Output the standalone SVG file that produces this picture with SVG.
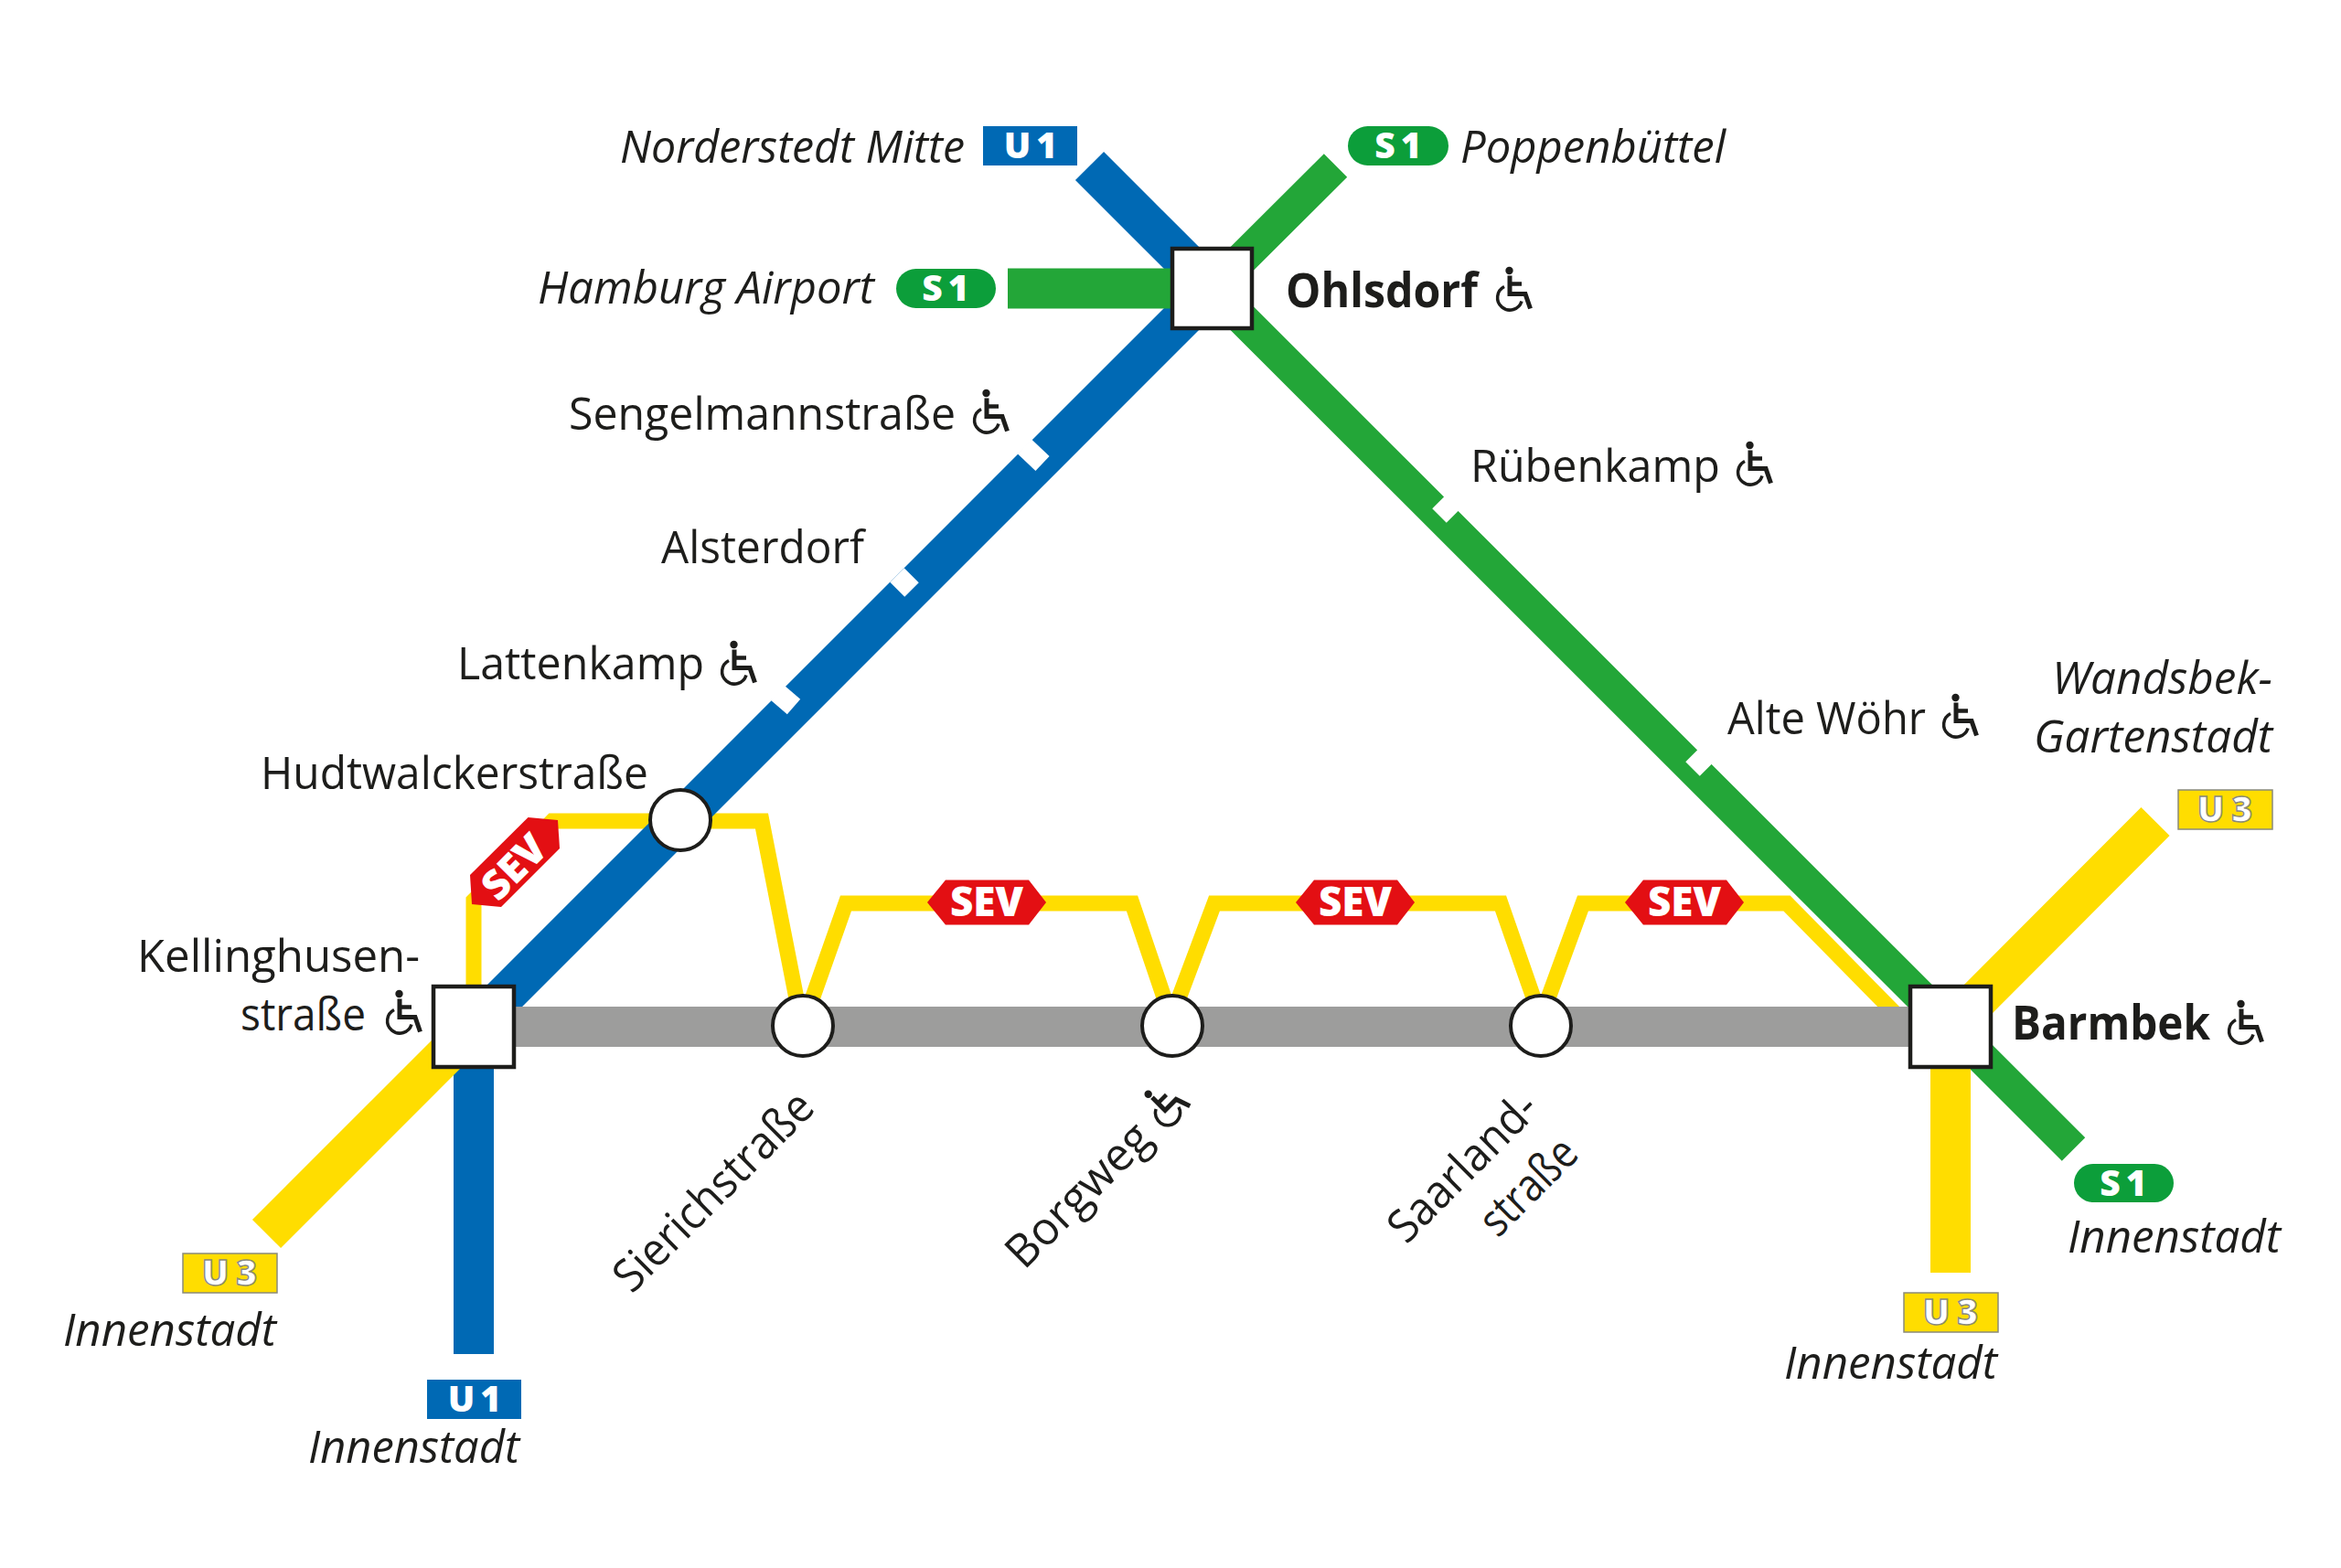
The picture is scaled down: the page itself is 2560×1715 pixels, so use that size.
<svg xmlns="http://www.w3.org/2000/svg" width="2560" height="1715" viewBox="0 0 2560 1715">
<style>
text{font-family:"Open Sans","Noto Sans","Liberation Sans",sans-serif;fill:#1d1d1b;font-size:50px}
.it{font-style:italic}
.b{font-weight:700;font-size:52px}
.bd{font-weight:800;font-size:39px;fill:#fff;text-anchor:middle;letter-spacing:6px}
.u3{stroke:#8a8a7a;stroke-width:1.5px;letter-spacing:8px}
.sev{font-weight:800;font-size:44px;fill:#fff;text-anchor:middle}
.l{fill:none;stroke-width:44}
.g{fill:none;stroke-width:36}
.thin{fill:none;stroke:#ffdd00;stroke-width:17;stroke-linejoin:miter}
.blue{stroke:#0069b4}.green{stroke:#23a638}.yellow{stroke:#ffdd00}.grey{stroke:#9d9d9c}
.notch{stroke:#fff;stroke-width:22}
.sq{fill:#fff;stroke:#1d1d1b;stroke-width:4.5}
.ci{fill:#fff;stroke:#1d1d1b;stroke-width:4}
.hex{fill:#e30f13}
.bu{fill:#0069b4}.bs{fill:#0c9e3a}.by{fill:#ffdd00;stroke:#8a8a7a;stroke-width:1.5}
</style>
<defs>
<g id="wc" fill="none" stroke="#1d1d1b">
<circle cx="14.500" cy="4" r="4.200" fill="#1d1d1b" stroke="none"/>
<path d="M15 9.500V29.500H32L37.500 45.500" stroke-width="5"/>
<path d="M15 18.500H28" stroke-width="4.500"/>
<path d="M9 21.500A13.500 13.500 0 1 0 28 37.500" stroke-width="3.500"/>
</g>
<polygon id="h" class="hex" points="-65,0 -45,-24.500 46,-24.500 65,0 46,24.500 -45,24.500"/>
</defs>
<rect width="2560" height="1715" fill="#fff"/>
<g id="connectors">
<path class="thin" d="M518 1090V985L604 898H833L874.500 1110M882 1110L925 988H1238L1276 1100M1286 1100L1328 988H1641L1680 1100M1690 1100L1731 988H1954L2072 1108"/>
<path class="l blue" d="M1191.500 181.500L1325.500 315.500L518 1123V1481"/>
<path class="g green" d="M1460.500 181L1325.500 315.500L2267.500 1257"/>
<path class="l green" d="M1102 315.500H1325.500"/>
<path class="l yellow" d="M291.500 1349.500L518 1123"/>
<path class="l yellow" d="M2357 898.500L2133 1123V1392"/>
<path class="l grey" d="M518 1123H2133"/>
<path class="notch" d="M1120.500 488.500L1140 507"/>
<path class="notch" d="M981 629L997 645"/>
<path class="notch" d="M850 757.500L868 773"/>
<path class="notch" d="M1592 546L1574 564"/>
<path class="notch" d="M1869 823L1851 841"/>
</g>
<g id="sev-badges">
<g id="sev-hudtwalcker"><polygon class="hex" points="577.500,894 610,897 612,928 548,992 516,989 514,957"/><text class="sev" transform="translate(573,959) rotate(-45)">SEV</text></g>
<g id="sev-sierich"><use href="#h" x="1079" y="987"/><text class="sev" x="1079" y="1002">SEV</text></g>
<g id="sev-borgweg"><use href="#h" x="1482" y="987"/><text class="sev" x="1482" y="1002">SEV</text></g>
<g id="sev-saarland"><use href="#h" x="1842" y="987"/><text class="sev" x="1842" y="1002">SEV</text></g>
</g>
<g id="ohlsdorf"><rect class="sq" x="1282" y="272" width="87" height="87"/><text class="b" x="1406" y="336" textLength="210" lengthAdjust="spacingAndGlyphs">Ohlsdorf</text><use href="#wc" x="1636" y="292"/></g>
<g id="barmbek"><rect class="sq" x="2089" y="1079" width="88" height="88"/><text class="b" x="2200" y="1137" textLength="217" lengthAdjust="spacingAndGlyphs">Barmbek</text><use href="#wc" x="2436" y="1094"/></g>
<g id="kellinghusenstrasse"><rect class="sq" x="474" y="1079" width="88" height="88"/><text x="150" y="1063" textLength="309" lengthAdjust="spacingAndGlyphs">Kellinghusen-</text><text x="263" y="1127" textLength="137" lengthAdjust="spacingAndGlyphs">straße</text><use href="#wc" x="422" y="1083"/></g>
<g id="hudtwalckerstrasse"><circle class="ci" cx="744" cy="897" r="33"/><text x="285" y="863" textLength="424" lengthAdjust="spacingAndGlyphs">Hudtwalckerstraße</text></g>
<g id="sierichstrasse"><circle class="ci" cx="878" cy="1122" r="33"/><text transform="translate(691,1416) rotate(-45)" textLength="286" lengthAdjust="spacingAndGlyphs">Sierichstraße</text></g>
<g id="borgweg"><circle class="ci" cx="1282" cy="1122" r="33"/><text transform="translate(1120,1390) rotate(-45)" textLength="201" lengthAdjust="spacingAndGlyphs">Borgweg</text><use href="#wc" transform="translate(1273,1207) rotate(-45) translate(-19.500,-23.500)"/></g>
<g id="saarlandstrasse"><circle class="ci" cx="1685" cy="1122" r="33"/><text transform="translate(1538,1362) rotate(-45)" textLength="208" lengthAdjust="spacingAndGlyphs">Saarland-</text><text transform="translate(1638,1355) rotate(-45)" textLength="128" lengthAdjust="spacingAndGlyphs">straße</text></g>
<g id="sengelmannstrasse"><text x="622" y="470" textLength="423" lengthAdjust="spacingAndGlyphs">Sengelmannstraße</text><use href="#wc" x="1064" y="426"/></g>
<g id="alsterdorf"><text x="723" y="616" textLength="222" lengthAdjust="spacingAndGlyphs">Alsterdorf</text></g>
<g id="lattenkamp"><text x="500" y="743" textLength="270" lengthAdjust="spacingAndGlyphs">Lattenkamp</text><use href="#wc" x="788" y="701"/></g>
<g id="ruebenkamp"><text x="1608" y="527" textLength="273" lengthAdjust="spacingAndGlyphs">Rübenkamp</text><use href="#wc" x="1899" y="483"/></g>
<g id="alte-woehr"><text x="1889" y="803" textLength="217" lengthAdjust="spacingAndGlyphs">Alte Wöhr</text><use href="#wc" x="2124" y="759"/></g>
<g id="term-norderstedt"><text class="it" x="678" y="178" textLength="377" lengthAdjust="spacingAndGlyphs">Norderstedt Mitte</text><rect class="bu" x="1075" y="138" width="103" height="43"/><text class="bd" x="1130" y="173">U1</text></g>
<g id="term-poppenbuettel"><rect class="bs" x="1474" y="138" width="110" height="43" rx="21.500"/><text class="bd" x="1532" y="173">S1</text><text class="it" x="1597" y="178" textLength="290" lengthAdjust="spacingAndGlyphs">Poppenbüttel</text></g>
<g id="term-airport"><text class="it" x="588" y="332" textLength="368" lengthAdjust="spacingAndGlyphs">Hamburg Airport</text><rect class="bs" x="980" y="294" width="109" height="43" rx="21.500"/><text class="bd" x="1037" y="329">S1</text></g>
<g id="term-wandsbek"><text class="it" x="2244" y="759" textLength="241" lengthAdjust="spacingAndGlyphs">Wandsbek-</text><text class="it" x="2224" y="823" textLength="261" lengthAdjust="spacingAndGlyphs">Gartenstadt</text><rect class="by" x="2382" y="864" width="103" height="43"/><text class="bd u3" x="2437" y="899">U3</text></g>
<g id="term-s1-innenstadt"><rect class="bs" x="2268" y="1273" width="109" height="42" rx="21"/><text class="bd" x="2325" y="1308">S1</text><text class="it" x="2261" y="1370" textLength="233" lengthAdjust="spacingAndGlyphs">Innenstadt</text></g>
<g id="term-u3-innenstadt"><rect class="by" x="2082" y="1414" width="103" height="43"/><text class="bd u3" x="2137" y="1449">U3</text><text class="it" x="1951" y="1508" textLength="233" lengthAdjust="spacingAndGlyphs">Innenstadt</text></g>
<g id="term-u3-innenstadt-west"><rect class="by" x="200" y="1371" width="103" height="43"/><text class="bd u3" x="255" y="1406">U3</text><text class="it" x="69" y="1472" textLength="233" lengthAdjust="spacingAndGlyphs">Innenstadt</text></g>
<g id="term-u1-innenstadt"><rect class="bu" x="467" y="1509" width="103" height="43"/><text class="bd" x="522" y="1544">U1</text><text class="it" x="337" y="1600" textLength="231" lengthAdjust="spacingAndGlyphs">Innenstadt</text></g>
</svg>
